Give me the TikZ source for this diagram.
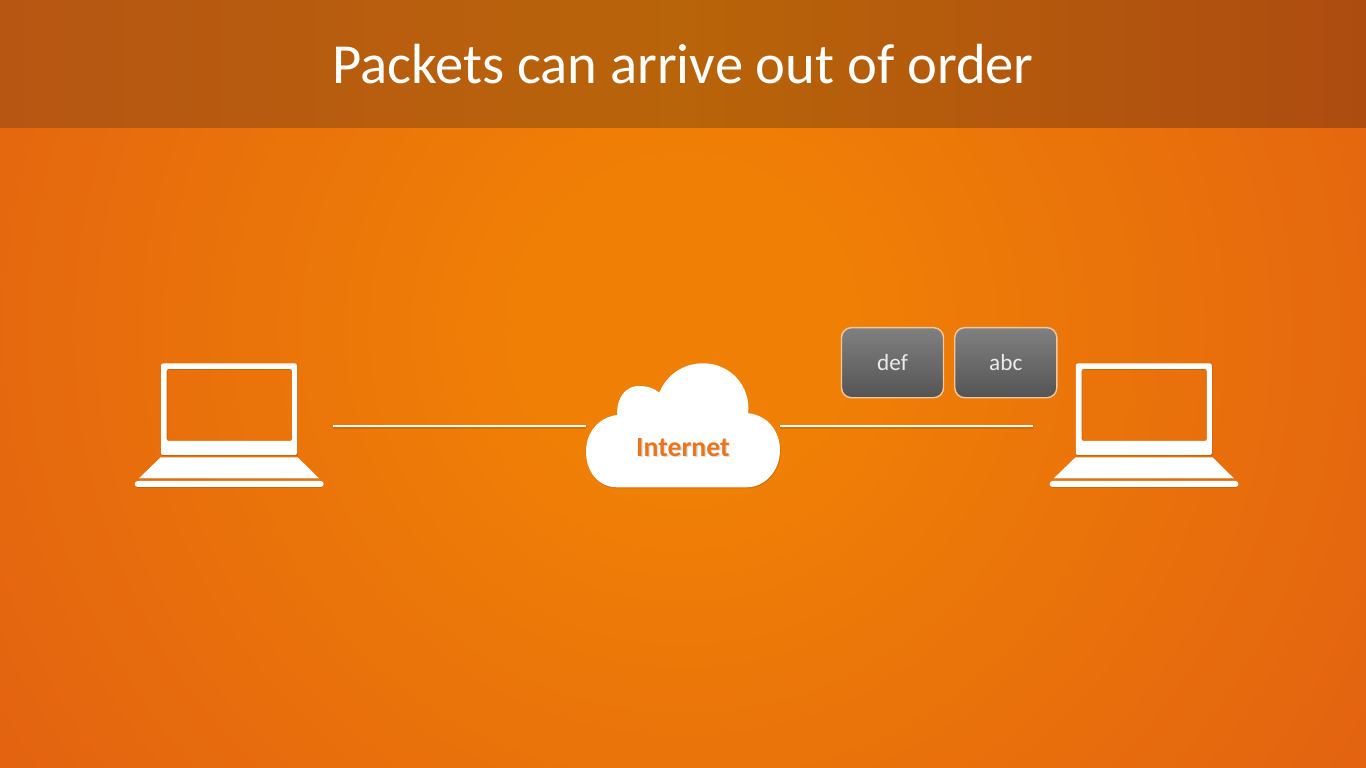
\documentclass[tikz,border=0pt]{standalone}
\usepackage{fontspec}
\setmainfont{Carlito}
\definecolor{bgin}{RGB}{240,128,5}
\definecolor{bgout}{RGB}{223,90,20}
\definecolor{bandl}{RGB}{183,86,19}
\definecolor{bandm}{RGB}{184,100,10}
\definecolor{bandr}{RGB}{174,76,16}
\definecolor{wirec}{RGB}{255,255,255}
\definecolor{cloudtext}{RGB}{232,118,30}
\definecolor{pkttop}{RGB}{128,128,128}
\definecolor{pktbot}{RGB}{84,84,84}
\definecolor{pktedge}{RGB}{240,200,160}
\pgfdeclareradialshading{slidebg}{\pgfpointorigin}{color(0bp)=(bgin); color(4bp)=(bgin); color(28bp)=(bgout); color(50bp)=(bgout)}
\tikzset{
  box/.style={minimum width=#1,minimum height=1.24cm,inner sep=0pt,outer sep=0pt},
  wire/.style={wirec,line width=.8pt},
  wireshadow/.style={black,opacity=.1,line width=.9pt},
  packet/.style={rounded corners=.1cm,draw=pktedge,line width=.4pt,top color=pkttop,bottom color=pktbot,
    minimum width=1.02cm,minimum height=.7cm,inner sep=0pt,text=black!8,font=\fontsize{6.6pt}{8pt}\selectfont},
}
\newcommand{\drawlaptop}[1]{
  \begin{scope}[xshift=#1cm]
    \fill[black,opacity=.12,even odd rule,shift={(.8,.8)}]
      (161,363.5)rectangle(297,455) (166.7,369)rectangle(292,441);
    \fill[white,even odd rule,rounded corners=.02cm]
      (161,363.5)rectangle(297,455) (166.7,369)rectangle(292,441);
    \fill[black,opacity=.12] (160.7,458)--(297.7,458)--(319,479.2)--(139,479.2)--cycle;
    \fill[white] (160.7,457.3)--(297.7,457.3)--(319,478.3)--(139,478.3)--cycle;
    \fill[black,opacity=.12,rounded corners=.03cm] (134.7,481.7)rectangle(323.7,487.8);
    \fill[white,rounded corners=.03cm] (134.7,481)rectangle(323.7,487);
  \end{scope}
}
\newcommand{\cloudpath}{
  (616.7,487.3) .. controls (598,487.3) and (586,471) .. (586,451.7)
  .. controls (586,431) and (600,417) .. (617.3,415)
  .. controls (616,398) and (626,386) .. (638.3,386)
  .. controls (647,386) and (654,388) .. (659.3,392.7)
  .. controls (667,374) and (684,363.3) .. (703.3,363.3)
  .. controls (730,363.3) and (751,386) .. (748.3,413.3)
  .. controls (767,415) and (780,431) .. (780,450)
  .. controls (780,471) and (765,487.3) .. (746.7,487.3) -- cycle
}
\begin{document}
\begin{tikzpicture}[x=.01cm,y=-.01cm]
\useasboundingbox (0,0) rectangle (1366,768);
\begin{scope}
  \clip (0,0) rectangle (1366,768);
  \shade[shading=slidebg] (683-900,330-900) rectangle (683+900,330+900);
  % title band
  \shade[left color=bandl,right color=bandr,middle color=bandm] (0,0) rectangle (1366,128);
\end{scope}
\node[text=white,font=\fontsize{16.1pt}{19pt}\selectfont] (title) at (683,64) {Packets can arrive out of order};
\drawlaptop{0}
\drawlaptop{9.143}
\node[box=1.89cm] (hostleft) at (229.2,426) {};
\node[box=1.89cm] (hostright) at (1143.5,426) {};
\fill[black,opacity=.12,shift={(.8,1.2)}] \cloudpath;
\fill[white] \cloudpath;
\node[box=1.94cm] (internet) at (683,426) {};
\node[text=black,opacity=.12,font=\bfseries\fontsize{7.9pt}{9pt}\selectfont] (internetshadow) at (684.5,449) {Internet};
\node[text=cloudtext,font=\bfseries\fontsize{7.9pt}{9pt}\selectfont] (internetlabel) at (683,447.5) {Internet};
\draw[wireshadow,shorten <=.095cm] ([yshift=-.012cm]hostleft.east) -- ([yshift=-.012cm]internet.west);
\draw[wire,shorten <=.095cm] (hostleft.east) -- (internet.west);
\draw[wireshadow,shorten >=.158cm] ([yshift=-.012cm]internet.east) -- ([yshift=-.012cm]hostright.west);
\draw[wire,shorten >=.158cm] (internet.east) -- (hostright.west);
\node[packet] (pktdef) at (892.5,362.7) {def};
\node[packet] (pktabc) at (1005.8,362.7) {abc};
\end{tikzpicture}
\end{document}
